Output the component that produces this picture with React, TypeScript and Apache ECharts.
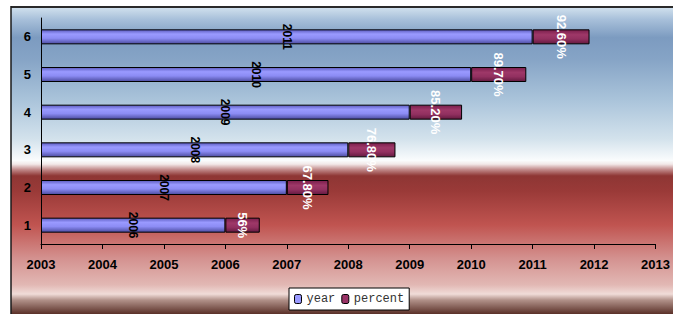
import React, { useEffect, useRef } from "react";
import * as echarts from "echarts";

const categories = ["1", "2", "3", "4", "5", "6"];
const years = [2006, 2007, 2008, 2009, 2010, 2011];
const percents = [0.56, 0.678, 0.768, 0.852, 0.897, 0.926];
const percentLabels = ["56%", "67.80%", "76.80%", "85.20%", "89.70%", "92.60%"];
const axisStartYear = 2003;
const axisEndYear = 2013;

export default function App() {
  const ref = useRef<HTMLDivElement>(null);
  useEffect(() => {
    document.body.style.margin = "0";
    if (!ref.current) return;
    const chart = echarts.init(ref.current, undefined, { renderer: "svg" });
    const W = 673;
    const H = 314;
    const bg = new echarts.graphic.LinearGradient(0, 0, 0, 1, [
      { offset: 0.0, color: "#d2e2ee" },
      { offset: 0.04, color: "#a8c0da" },
      { offset: 0.1, color: "#7c9bc0" },
      { offset: 0.17, color: "#86a4c6" },
      { offset: 0.3, color: "#a9c3da" },
      { offset: 0.43, color: "#d3e2ec" },
      { offset: 0.5, color: "#fafcfd" },
      { offset: 0.512, color: "#f2e8e8" },
      { offset: 0.53, color: "#c08888" },
      { offset: 0.55, color: "#8e3634" },
      { offset: 0.6, color: "#9a3a38" },
      { offset: 0.71, color: "#c05450" },
      { offset: 0.82, color: "#d49290" },
      { offset: 0.905, color: "#e2b8b4" },
      { offset: 0.935, color: "#f0dcd8" },
      { offset: 0.955, color: "#b09088" },
      { offset: 1.0, color: "#5a3028" },
    ]);
    const yearOffsets = years.map((y) => y - axisStartYear);
    chart.setOption({
      animation: false,
      textStyle: { fontFamily: "Liberation Sans, Arial, sans-serif" },
      graphic: [
        {
          type: "rect",
          z: -10,
          silent: true,
          shape: { x: 11, y: 7, width: W - 11, height: H - 7 },
          style: { fill: bg },
        },
        {
          type: "line",
          z: -9,
          shape: { x1: 11, y1: 7, x2: W, y2: 7 },
          style: { stroke: "#2a2a2a", lineWidth: 2 },
        },
        {
          type: "line",
          z: -9,
          shape: { x1: 11, y1: 6, x2: 11, y2: H },
          style: { stroke: "#1a1a1a", lineWidth: 1.5 },
        },
      ],
      grid: { left: 41, right: 13, top: 18, bottom: 70 },
      legend: {
        left: 289,
        top: 288,
        data: [
          { name: "year", itemStyle: { color: "#9999ff", borderColor: "#000", borderWidth: 1 } },
          { name: "percent", itemStyle: { color: "#993366", borderColor: "#000", borderWidth: 1 } },
        ],
        itemWidth: 7,
        itemHeight: 9,
        itemGap: 6,
        padding: [5, 5, 5, 5],
        backgroundColor: "#ffffff",
        borderColor: "#000000",
        borderWidth: 1,
        textStyle: { fontFamily: "Liberation Mono, monospace", fontSize: 12, color: "#333" },
      },
      xAxis: {
        type: "value",
        min: 0,
        max: axisEndYear - axisStartYear,
        interval: 1,
        splitLine: { show: false },
        axisLine: { show: true, lineStyle: { color: "#000", width: 1 } },
        axisTick: { show: true, length: 5, lineStyle: { color: "#000" } },
        axisLabel: {
          formatter: (v: number) => String(v + axisStartYear),
          color: "#000",
          fontWeight: "bold",
          fontSize: 13,
          margin: 14,
        },
      },
      yAxis: {
        type: "category",
        data: categories,
        axisLine: { show: true, lineStyle: { color: "#000", width: 1 } },
        axisTick: { show: false },
        axisLabel: { color: "#000", fontWeight: "bold", fontSize: 13, margin: 10 },
      },
      series: [
        {
          name: "year",
          type: "bar",
          stack: "a",
          barWidth: 15,
          data: yearOffsets,
          itemStyle: {
            color: new echarts.graphic.LinearGradient(0, 0, 0, 1, [
              { offset: 0, color: "#5c5cc0" },
              { offset: 0.3, color: "#9a9aff" },
              { offset: 0.6, color: "#8c8cf4" },
              { offset: 1, color: "#4c4ca0" },
            ]),
            borderColor: "#000",
            borderWidth: 1,
          },
          label: {
            show: true,
            position: "inside",
            rotate: -90,
            formatter: (p: any) => String(years[p.dataIndex]),
            color: "#000",
            fontWeight: "bold",
            fontSize: 12,
          },
        },
        {
          name: "percent",
          type: "bar",
          stack: "a",
          barWidth: 15,
          data: percents,
          itemStyle: {
            color: new echarts.graphic.LinearGradient(0, 0, 0, 1, [
              { offset: 0, color: "#7a1e4c" },
              { offset: 0.35, color: "#9e3868" },
              { offset: 0.65, color: "#923060" },
              { offset: 1, color: "#641a40" },
            ]),
            borderColor: "#000",
            borderWidth: 1,
          },
          label: {
            show: true,
            position: "inside",
            rotate: -90,
            formatter: (p: any) => percentLabels[p.dataIndex],
            color: "#fff",
            fontWeight: "bold",
            fontSize: 13,
          },
        },
      ],
    });
    return () => chart.dispose();
  }, []);
  return <div ref={ref} style={{ width: 673, height: 314 }} />;
}
